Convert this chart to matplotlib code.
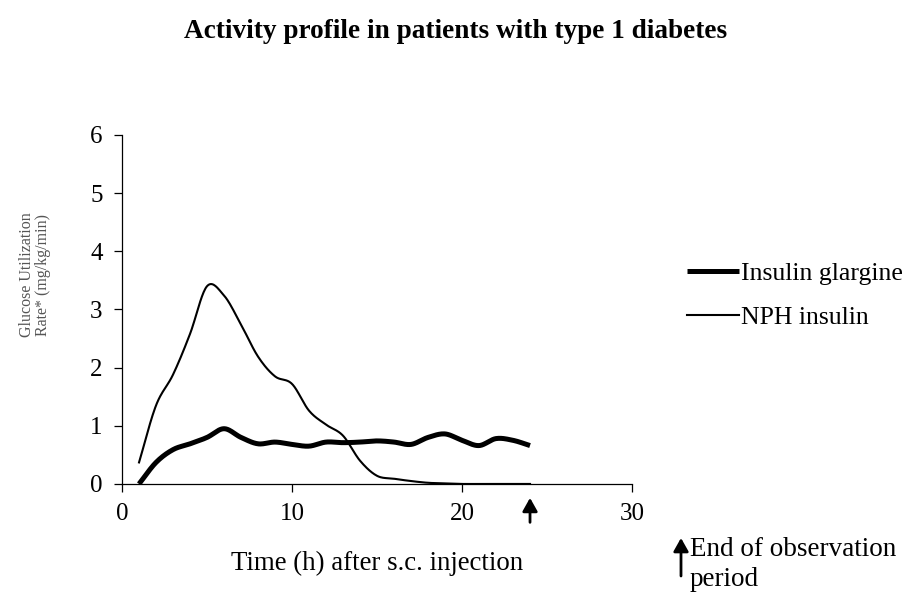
import numpy as np
import matplotlib
matplotlib.use("Agg")
import matplotlib.pyplot as plt
from matplotlib.patches import FancyArrowPatch

plt.rcParams['font.family'] = ['Liberation Serif', 'DejaVu Serif']

title = "Activity profile in patients with type 1 diabetes"
hours = list(range(1, 25))
glargine = [0.0, 0.37, 0.59, 0.69, 0.80, 0.95, 0.80, 0.69, 0.72, 0.68, 0.65, 0.72,
            0.71, 0.72, 0.74, 0.72, 0.68, 0.80, 0.86, 0.75, 0.66, 0.78, 0.75, 0.66]
nph = [0.37, 1.35, 1.88, 2.58, 3.40, 3.24, 2.74, 2.19, 1.85, 1.72, 1.26, 1.02,
       0.83, 0.40, 0.14, 0.09, 0.05, 0.02, 0.01, 0.0, 0.0, 0.0, 0.0, 0.0]
x_ticks = [0, 10, 20, 30]
y_ticks = [0, 1, 2, 3, 4, 5, 6]
end_of_observation = 24


def smooth(x, y, n=20):
    """Catmull-Rom rendering through the given points (Excel-style smoothed line)."""
    x = np.asarray(x, float)
    y = np.asarray(y, float)
    px = np.concatenate([[2 * x[0] - x[1]], x, [2 * x[-1] - x[-2]]])
    py = np.concatenate([[2 * y[0] - y[1]], y, [2 * y[-1] - y[-2]]])
    xs, ys = [], []
    t = np.linspace(0, 1, n, endpoint=False)
    for i in range(1, len(px) - 2):
        for arr, out in ((px, xs), (py, ys)):
            p0, p1, p2, p3 = arr[i - 1], arr[i], arr[i + 1], arr[i + 2]
            out.extend(0.5 * ((2 * p1) + (-p0 + p2) * t +
                              (2 * p0 - 5 * p1 + 4 * p2 - p3) * t ** 2 +
                              (-p0 + 3 * p1 - 3 * p2 + p3) * t ** 3))
    xs.append(x[-1])
    ys.append(y[-1])
    return np.array(xs), np.array(ys)


fig = plt.figure(figsize=(9.12, 5.96), dpi=100)
ax = fig.add_axes([0.1338, 0.188, 0.5592, 0.5855])

gx, gy = smooth(hours, glargine)
nx, ny = smooth(hours, nph)
ax.plot(gx, gy, color='black', lw=3.6, solid_capstyle='butt', label='Insulin glargine')
ax.plot(nx, ny, color='black', lw=1.5, label='NPH insulin')

ax.set_xlim(0, 30)
ax.set_ylim(0, 6)
ax.set_xticks(x_ticks)
ax.set_yticks(y_ticks)
for s in ('top', 'right'):
    ax.spines[s].set_visible(False)
ax.spines['left'].set_linewidth(0.9)
ax.spines['bottom'].set_linewidth(0.9)
ax.tick_params(axis='both', direction='out', length=6, width=0.9, labelsize=18)
ax.tick_params(axis='x', pad=8)
ax.tick_params(axis='y', pad=8)

ax.set_xlabel("Time (h) after s.c. injection", fontsize=19.4, labelpad=18)
fig.text(35 / 912, 1 - 275 / 596, "Glucose Utilization\nRate* (mg/kg/min)", fontsize=11.5,
         color='#555555', rotation=90, ha='center', va='center', linespacing=1.0)

fig.text(0.5, 1 - 31 / 596, title, ha='center', va='center', fontsize=19.6, fontweight='bold')

ax.legend(loc='center left', bbox_to_anchor=(1.088, 0.54), frameon=False, fontsize=18.5,
          handlelength=2.0, handletextpad=0.1, labelspacing=0.85, borderaxespad=0)

# arrow under the x axis at end of observation
ax.add_patch(FancyArrowPatch((end_of_observation, -0.66), (end_of_observation, -0.24),
                             arrowstyle='-|>,head_length=8,head_width=4.5', mutation_scale=1,
                             color='black', lw=2, clip_on=False, shrinkA=0, shrinkB=0))

# footnote arrow + text
fig.patches.append(FancyArrowPatch(
    (681 / 912, 1 - 576 / 596), (681 / 912, 1 - 538 / 596), transform=fig.transFigure,
    arrowstyle='-|>,head_length=8,head_width=4.5', mutation_scale=1, color='black', lw=2,
    shrinkA=0, shrinkB=0))
fig.text(690 / 912, 1 - 550 / 596, "End of observation", fontsize=19.5, va='center', ha='left')
fig.text(690 / 912, 1 - 580 / 596, "period", fontsize=19.5, va='center', ha='left')

fig.savefig('out.png', dpi=100)
